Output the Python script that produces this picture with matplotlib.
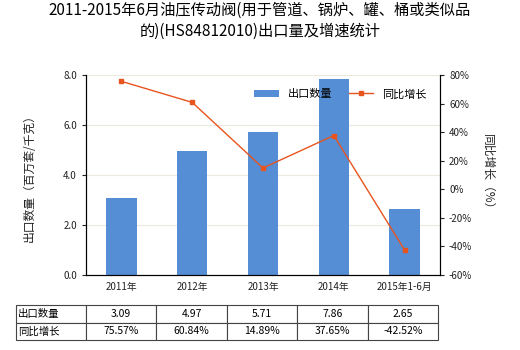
import matplotlib
matplotlib.use("Agg")
import matplotlib.pyplot as plt
import numpy as np

plt.rcParams['font.family'] = ['Noto Sans CJK SC', 'DejaVu Sans']

categories = ['2011年', '2012年', '2013年', '2014年', '2015年1-6月']
export_qty = [3.09, 4.97, 5.71, 7.86, 2.65]
growth = [75.57, 60.84, 14.89, 37.65, -42.52]
qty_labels = ['3.09', '4.97', '5.71', '7.86', '2.65']
growth_labels = ['75.57%', '60.84%', '14.89%', '37.65%', '-42.52%']
left_ticks = [0.0, 2.0, 4.0, 6.0, 8.0]
right_ticks = [-60, -40, -20, 0, 20, 40, 60, 80]

W, H = 520, 350
fig = plt.figure(figsize=(W/100, H/100), dpi=100)
ax = fig.add_axes([86/W, 1-275/H, (440-86)/W, 200/H])
ax2 = ax.twinx()

x = np.arange(len(categories))
bar_color = '#558ed5'
line_color = '#e8541e'
ax.bar(x, export_qty, width=0.43, color=bar_color, label='出口数量', zorder=2)
ax2.plot(x, growth, color=line_color, lw=1.0, marker='s', ms=3.5, label='同比增长', zorder=3)

ax.set_xlim(-0.5, len(categories)-0.5)
ax.set_ylim(0, 8)
ax.set_yticks(left_ticks)
ax.set_yticklabels([f'{v:.1f}' for v in left_ticks])
ax2.set_ylim(-60, 80)
ax2.set_yticks(right_ticks)
ax2.set_yticklabels([f'{v}%' for v in right_ticks])
ax.set_xticks(x)
ax.set_xticklabels(categories)

for a in (ax, ax2):
    a.tick_params(labelsize=7, length=3, width=0.8, colors='#222222')
    for s in a.spines.values():
        s.set_color('#000000')
        s.set_linewidth(0.8)
ax.spines['top'].set_visible(False)
ax2.spines['top'].set_visible(False)
ax.tick_params(axis='x', length=0, pad=5)
ax.grid(axis='y', color='#ece8dc', lw=0.8, zorder=0)
ax.set_axisbelow(True)

ax.set_ylabel('出口数量（百万套/千克）', fontsize=8.5, color='#222222', labelpad=20)
ax2.set_ylabel('同比增长（%）', fontsize=8.5, color='#222222', rotation=-90, labelpad=16)

fig.suptitle('2011-2015年6月油压传动阀(用于管道、锅炉、罐、桶或类似品\n的)(HS84812010)出口量及增速统计',
             fontsize=11, y=0.995, va='top', linespacing=1.3)

h1, l1 = ax.get_legend_handles_labels()
h2, l2 = ax2.get_legend_handles_labels()
ax2.legend(h1+h2, l1+l2, loc='upper right', bbox_to_anchor=(0.99, 0.98), ncol=2,
           frameon=False, fontsize=8, handlelength=2.2, columnspacing=1.5)

# data table
tax = fig.add_axes([16/W, 1-340/H, (438-16)/W, 35/H])
tax.axis('off')
cells = [['出口数量'] + qty_labels, ['同比增长'] + growth_labels]
tbl = tax.table(cellText=cells, bbox=[0, 0, 1, 1], cellLoc='center',
                colWidths=[70] + [70.4]*5)
tbl.auto_set_font_size(False)
for (r, c), cell in tbl.get_celld().items():
    cell.set_fontsize(7.5)
    cell.set_edgecolor('#444444')
    cell.set_linewidth(0.8)
    if c == 0:
        cell.get_text().set_horizontalalignment('left')
        cell.PAD = 0.03

fig.savefig('out.png', dpi=100)
